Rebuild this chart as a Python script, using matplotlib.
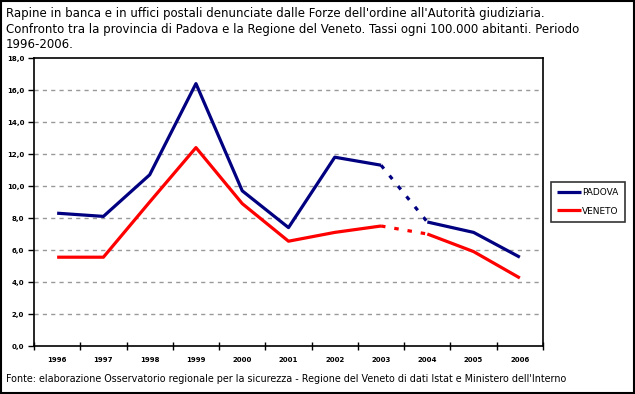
import matplotlib.pyplot as plt
from matplotlib.ticker import FixedLocator, FuncFormatter
from matplotlib.patches import Rectangle

years = ["1996", "1997", "1998", "1999", "2000", "2001", "2002", "2003", "2004", "2005", "2006"]
padova = [8.3, 8.1, 10.7, 16.4, 9.7, 7.4, 11.8, 11.3, 7.75, 7.1, 5.55]
veneto = [5.55, 5.55, 9.0, 12.4, 8.9, 6.55, 7.1, 7.5, 7.0, 5.9, 4.25]
y_ticks = [0, 2, 4, 6, 8, 10, 12, 14, 16, 18]

title = ("Rapine in banca e in uffici postali denunciate dalle Forze dell'ordine all'Autorità giudiziaria.\n"
         "Confronto tra la provincia di Padova e la Regione del Veneto. Tassi ogni 100.000 abitanti. Periodo\n"
         "1996-2006.")
source = ("Fonte: elaborazione Osservatorio regionale per la sicurezza - Regione del Veneto di dati Istat "
          "e Ministero dell'Interno")

BLUE = "#000080"
RED = "#ff0000"
gap = 7  # 2003 -> 2004 segment drawn dashed


def main():
    fig = plt.figure(figsize=(6.35, 3.94), dpi=100)
    ax = fig.add_axes([34 / 635, 48 / 394, 509 / 635, 288 / 394])

    x = list(range(len(years)))
    for vals, color, label in [(padova, BLUE, "PADOVA"), (veneto, RED, "VENETO")]:
        ax.plot(x[:gap + 1], vals[:gap + 1], color=color, lw=2.3, label=label,
                solid_capstyle="butt")
        ax.plot(x[gap:gap + 2], vals[gap:gap + 2], color=color, lw=2.3,
                linestyle=(0, (1.4, 2.8)), dash_capstyle="butt")
        ax.plot(x[gap + 1:], vals[gap + 1:], color=color, lw=2.3, solid_capstyle="butt")

    ax.set_xlim(-0.5, len(years) - 0.5)
    ax.set_ylim(0, 18)
    ax.set_yticks(y_ticks)
    ax.yaxis.set_major_formatter(FuncFormatter(lambda v, _: f"{v:.1f}".replace(".", ",")))
    for v in y_ticks[1:-1]:
        ax.axhline(v, color="#999999", lw=1, linestyle=(0, (3, 3)), zorder=0)

    ax.set_xticks(x)
    ax.set_xticklabels(years)
    ax.xaxis.set_minor_locator(FixedLocator([i - 0.5 for i in range(len(years) + 1)]))
    ax.tick_params(axis="x", which="major", length=0, pad=8)
    ax.tick_params(axis="x", which="minor", length=6, direction="inout", width=1)
    ax.tick_params(axis="y", length=4, width=1, direction="out", pad=3)
    for lbl in ax.get_xticklabels() + ax.get_yticklabels():
        lbl.set_fontsize(5)
        lbl.set_fontweight("bold")
    for s in ax.spines.values():
        s.set_linewidth(1.2)

    leg = ax.legend(loc="center left", bbox_to_anchor=(1.006, 0.5), frameon=True,
                    fancybox=False, edgecolor="black", fontsize=6.5, handlelength=2.6,
                    handletextpad=0.1, borderpad=0.75, labelspacing=1.0)
    leg.get_frame().set_linewidth(1.2)

    fig.text(6 / 635, 1 - 7 / 394, title, ha="left", va="top", fontsize=8.5,
             family="DejaVu Sans", linespacing=1.25)
    fig.text(6 / 635, 1 - 379 / 394, source, ha="left", va="center", fontsize=6.9,
             family="DejaVu Sans")

    fig.patches.append(Rectangle((0.001, 0.002), 0.997, 0.996, transform=fig.transFigure,
                                 fill=False, edgecolor="black", lw=1.5))

    fig.savefig("out.png", dpi=100)


if __name__ == "__main__":
    main()
